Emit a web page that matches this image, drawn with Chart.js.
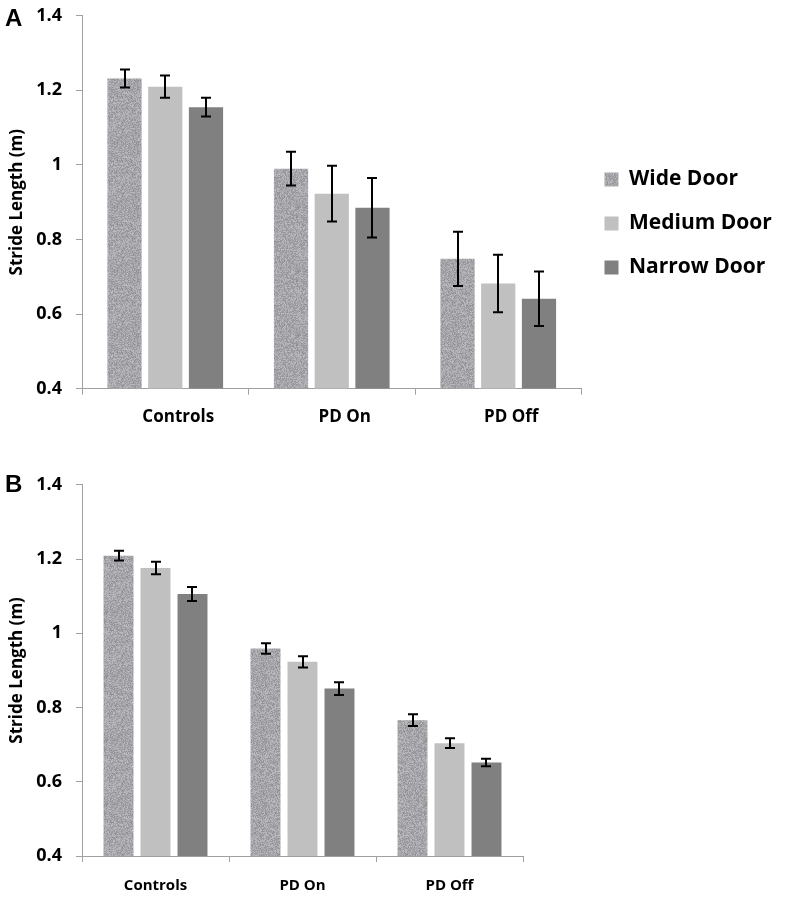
<!DOCTYPE html>
<html lang="en">
<head>
  <meta charset="UTF-8" />
  <title>Stride Length by Door Width</title>
  <script src="https://cdn.jsdelivr.net/npm/chart.js"></script>
  <style>
    body {
      margin: 0;
      background: #fff;
      width: 787px;
      height: 900px;
      position: relative;
      overflow: hidden;
    }
    .panel {
      position: absolute;
      left: 0;
    }
    .letter {
      position: absolute;
      left: 5px;
      font-family: 'Liberation Sans', Arial, sans-serif;
      font-weight: bold;
      font-size: 24px;
      line-height: 1;
      color: #000;
    }
    canvas {
      display: block;
    }
  </style>
</head>
<body>
  <div class="panel" style="top:-9px"><canvas id="chartA" width="787" height="462"></canvas></div>
  <div class="letter" style="top:6px">A</div>
  <div class="panel" style="top:460px"><canvas id="chartB" width="787" height="450"></canvas></div>
  <div class="letter" style="top:472px">B</div>

  <script>
    const categories = ['Controls', 'PD On', 'PD Off'];
    const seriesNames = ['Wide Door', 'Medium Door', 'Narrow Door'];
    const yTitle = 'Stride Length (m)';
    const yMin = 0.4;
    const yMax = 1.4;
    const yStep = 0.2;

    // Panel A
    const wideA = [1.232, 0.990, 0.748];
    const mediumA = [1.210, 0.923, 0.682];
    const narrowA = [1.155, 0.885, 0.641];
    const wideErrA = [0.024, 0.045, 0.073];
    const mediumErrA = [0.030, 0.075, 0.077];
    const narrowErrA = [0.025, 0.080, 0.073];

    // Panel B
    const wideB = [1.209, 0.959, 0.766];
    const mediumB = [1.176, 0.923, 0.704];
    const narrowB = [1.106, 0.851, 0.652];
    const wideErrB = [0.013, 0.014, 0.016];
    const mediumErrB = [0.017, 0.015, 0.013];
    const narrowErrB = [0.019, 0.017, 0.010];

    const axisColor = '#a0a0a0';
    const fontFamily = "'Open Sans', sans-serif";

    // grey speckled fill for the wide door bars (fixed hash, not data)
    function speckle() {
      const c = document.createElement('canvas');
      c.width = 64;
      c.height = 64;
      const g = c.getContext('2d');
      let s = 12345;
      for (let y = 0; y < 64; y++) {
        for (let x = 0; x < 64; x++) {
          s = (s * 1103515245 + 12345) & 0x7fffffff;
          const v = 144 + (s >> 16) % 46;
          g.fillStyle = 'rgb(' + v + ',' + v + ',' + (v + 4) + ')';
          g.fillRect(x, y, 1, 1);
        }
      }
      return g.createPattern(c, 'repeat');
    }
    const widePattern = speckle();

    // error bars drawn on top of each bar
    const errorBars = {
      id: 'errorBars',
      afterDatasetsDraw(chart) {
        const ctx = chart.ctx;
        const yScale = chart.scales.y;
        ctx.save();
        ctx.strokeStyle = '#000';
        ctx.lineWidth = 2;
        chart.data.datasets.forEach((ds, i) => {
          const meta = chart.getDatasetMeta(i);
          meta.data.forEach((bar, j) => {
            const v = ds.data[j];
            const e = ds.errors[j];
            const top = yScale.getPixelForValue(v + e);
            const bot = yScale.getPixelForValue(v - e);
            const x = Math.round(bar.x);
            ctx.beginPath();
            ctx.moveTo(x, top);
            ctx.lineTo(x, bot);
            ctx.moveTo(x - 5, top);
            ctx.lineTo(x + 5, top);
            ctx.moveTo(x - 5, bot);
            ctx.lineTo(x + 5, bot);
            ctx.stroke();
          });
        });
        ctx.restore();
      }
    };

    function makeChart(id, wide, medium, narrow, wideErr, mediumErr, narrowErr, cfg) {
      return new Chart(document.getElementById(id), {
        type: 'bar',
        data: {
          labels: categories,
          datasets: [
            { label: seriesNames[0], data: wide, errors: wideErr, backgroundColor: widePattern },
            { label: seriesNames[1], data: medium, errors: mediumErr, backgroundColor: '#c0c0c0' },
            { label: seriesNames[2], data: narrow, errors: narrowErr, backgroundColor: '#808080' }
          ]
        },
        options: {
          responsive: false,
          animation: false,
          categoryPercentage: cfg.categoryPercentage,
          barPercentage: cfg.barPercentage,
          layout: { padding: cfg.padding },
          scales: {
            y: {
              min: yMin,
              max: yMax,
              afterFit(scale) { scale.width = 78; },
              ticks: {
                stepSize: yStep,
                color: '#000',
                padding: 14,
                callback: v => String(Math.round(v * 10) / 10),
                font: { family: fontFamily, size: 18, weight: 'bold' }
              },
              grid: { drawOnChartArea: false, drawTicks: true, tickLength: 6, color: axisColor },
              border: { color: axisColor },
              title: {
                display: true,
                text: yTitle,
                color: '#000',
                padding: { top: 3, bottom: 0 },
                font: { family: fontFamily, size: 17, weight: 'bold' }
              }
            },
            x: {
              ticks: {
                color: '#000',
                padding: cfg.xPad,
                labelOffset: cfg.labelOffset,
                font: { family: fontFamily, size: cfg.xFont, weight: 'bold' }
              },
              grid: { offset: true, drawOnChartArea: false, drawTicks: true, tickLength: 6, color: axisColor },
              border: { color: axisColor }
            }
          },
          plugins: {
            legend: {
              display: cfg.legend,
              position: 'right',
              labels: {
                color: '#000',
                boxWidth: 14,
                boxHeight: 14,
                padding: 23,
                font: { family: fontFamily, size: 21, weight: 'bold' }
              }
            },
            tooltip: { enabled: false }
          }
        },
        plugins: [errorBars]
      });
    }

    makeChart('chartA', wideA, mediumA, narrowA, wideErrA, mediumErrA, narrowErrA, {
      categoryPercentage: 0.734,
      barPercentage: 0.84,
      padding: { top: 17, bottom: 14, left: 4, right: 13 },
      xPad: 12,
      labelOffset: 13,
      xFont: 17,
      legend: true
    });

    makeChart('chartB', wideB, mediumB, narrowB, wideErrB, mediumErrB, narrowErrB, {
      categoryPercentage: 0.755,
      barPercentage: 0.81,
      padding: { top: 16, bottom: 0, left: 4, right: 264 },
      xPad: 15,
      labelOffset: 0,
      xFont: 15,
      legend: false
    });
  </script>
</body>
</html>
